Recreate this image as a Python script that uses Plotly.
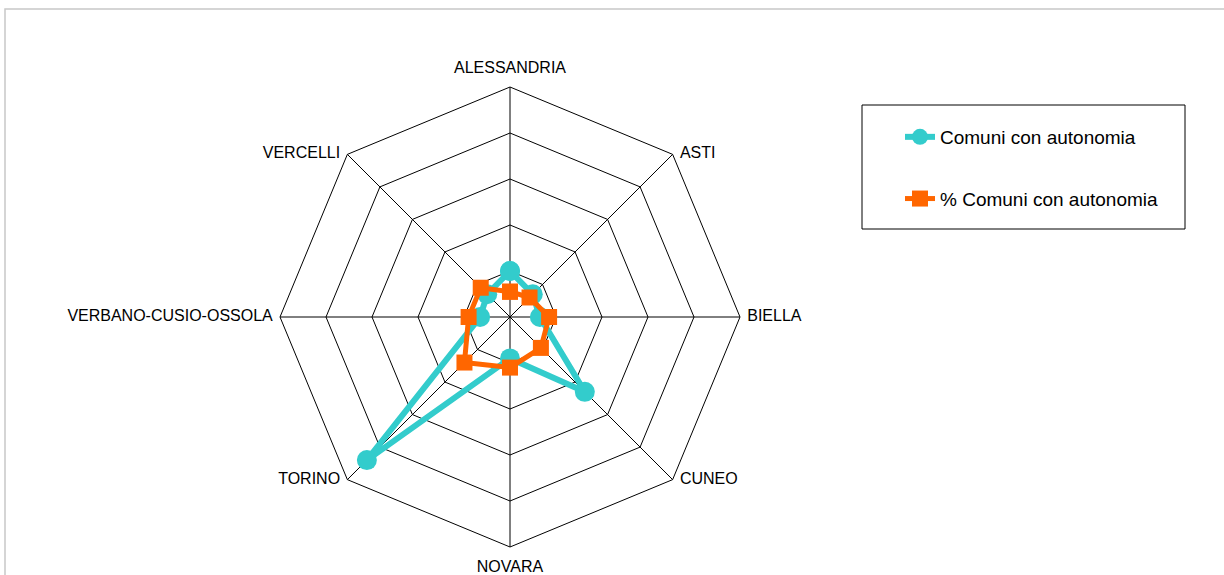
import plotly.graph_objects as go

# Province piemontesi, in senso orario a partire dall'alto
province = ["ALESSANDRIA", "ASTI", "BIELLA", "CUNEO", "NOVARA",
            "TORINO", "VERBANO-CUSIO-OSSOLA", "VERCELLI"]

comuni_autonomia = [20, 14, 13, 46, 18, 88, 13, 14]
perc_autonomia = [11, 12, 17, 19, 22, 28, 18, 18]

ring_vals = [20, 40, 60, 80, 100]

TEAL = "#33CCCC"
ORANGE = "#FF6600"
W, H = 1224, 575

# centro del radar (px) e raggio
CX, CY, R = 510, 317, 230

# posizione delle etichette rispetto ai vertici dell'ottagono (stile Excel)
label_pos = ["top center", "middle right", "middle right", "middle right",
             "bottom center", "middle left", "middle left", "middle left"]
label_gap = [14, 10, 10, 10, 19, 10, 10, 10]  # marker invisibile -> distanza testo


def close(vals):
    return vals + vals[:1]


fig = go.Figure()

fig.add_trace(go.Scatterpolar(
    r=close(comuni_autonomia),
    theta=close(province),
    mode="lines+markers",
    name="Comuni con autonomia",
    legendgroup="a",
    line=dict(color=TEAL, width=6),
    marker=dict(symbol="circle", size=20, color=TEAL),
))

fig.add_trace(go.Scatterpolar(
    r=close(perc_autonomia),
    theta=close(province),
    mode="lines+markers",
    name="% Comuni con autonomia",
    legendgroup="b",
    line=dict(color=ORANGE, width=5),
    marker=dict(symbol="square", size=16, color=ORANGE),
))

# etichette delle province sui vertici esterni
fig.add_trace(go.Scatterpolar(
    r=[ring_vals[-1]] * len(province),
    theta=province,
    mode="markers+text",
    text=province,
    textposition=label_pos,
    textfont=dict(size=16, color="black"),
    marker=dict(size=label_gap, opacity=0),
    cliponaxis=False,
    hoverinfo="skip",
    showlegend=False,
))

# riquadro del grafico e della legenda
fig.add_shape(type="rect", xref="paper", yref="paper",
              x0=5 / W, x1=1.01, y0=-0.01, y1=1 - 9 / H,
              line=dict(color="#c8c8c8", width=1.5))
fig.add_shape(type="rect", xref="paper", yref="paper",
              x0=862 / W, x1=1185 / W, y0=1 - 229 / H, y1=1 - 105 / H,
              line=dict(color="black", width=1))

fig.update_layout(
    width=W, height=H,
    margin=dict(l=0, r=0, t=0, b=0),
    paper_bgcolor="white",
    plot_bgcolor="white",
    font=dict(family="Liberation Sans, Arial, sans-serif", size=16, color="black"),
    polar=dict(
        domain=dict(x=[(CX - R) / W, (CX + R) / W],
                    y=[1 - (CY + R) / H, 1 - (CY - R) / H]),
        gridshape="linear",
        bgcolor="white",
        radialaxis=dict(range=[0, 100], tickvals=ring_vals, showticklabels=False,
                        ticks="", showline=False, gridcolor="black", gridwidth=1),
        angularaxis=dict(rotation=90, direction="clockwise",
                         ticks="", showticklabels=False,
                         linecolor="black", linewidth=1,
                         gridcolor="black", gridwidth=1),
    ),
    legend=dict(
        x=900 / W, y=1 - 118 / H, xanchor="left", yanchor="top",
        bgcolor="rgba(0,0,0,0)", borderwidth=0,
        font=dict(size=19, color="black"),
        tracegroupgap=34,
    ),
    showlegend=True,
)

# la pagina ha un margine di 8px sul body: lo azzero
fig.write_html("out.html", config={"displayModeBar": False},
               post_script="document.body.style.margin='0';")
